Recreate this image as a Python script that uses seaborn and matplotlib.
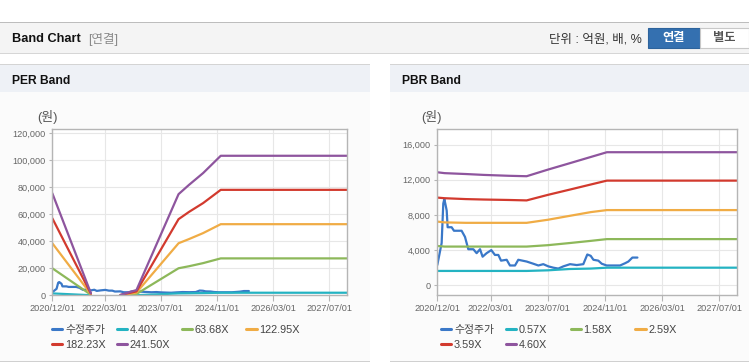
import pandas as pd
import matplotlib
matplotlib.use("Agg")
import matplotlib.pyplot as plt
from matplotlib.patches import Rectangle
from matplotlib.lines import Line2D
import seaborn as sns

# ---- data ----
PRICE_DATES = ["2020-12-01", "2021-01-07", "2021-01-21", "2021-01-30", "2021-02-10",
               "2021-02-19", "2021-02-27", "2021-04-02", "2021-04-22", "2021-06-26",
               "2021-07-25", "2021-08-22", "2021-10-04", "2021-11-01", "2021-11-30",
               "2021-12-22", "2022-01-25", "2022-03-06", "2022-04-06", "2022-05-05",
               "2022-05-28", "2022-07-15", "2022-08-12", "2022-09-24", "2022-10-22",
               "2023-01-01", "2023-02-27", "2023-04-11", "2023-05-23", "2023-07-05",
               "2023-08-17", "2023-09-28", "2023-11-10", "2024-01-06", "2024-03-03",
               "2024-04-28", "2024-06-01", "2024-06-30", "2024-07-23", "2024-09-03",
               "2024-10-02", "2024-11-13", "2025-03-07", "2025-04-18", "2025-05-17",
               "2025-06-20", "2025-08-02"]
PRICE = [2300, 4800, 9300, 9800, 9100, 8500, 6600, 6600, 6200, 6200,
         5500, 4100, 4100, 3650, 4100, 3250, 3650, 4000, 3450, 3450,
         2800, 2900, 2250, 2250, 2900, 2700, 2450, 2250, 2400, 2150,
         2000, 1900, 2150, 2400, 2300, 2400, 3500, 3350, 2900, 2800,
         2450, 2250, 2250, 2500, 2700, 3150, 3150]

PER_DATES = ["2020-12-01", "2021-11-01", "2022-07-15", "2022-12-01", "2023-12-01",
             "2024-03-01", "2024-07-01", "2024-12-01", "2027-12-01"]
PER_SEG = [0, 0, 1, 1, 1, 1, 1, 1, 1]   # line is broken between 2021/11 and 2022/07
PER_LABELS = ["4.40X", "63.68X", "122.95X", "182.23X", "241.50X"]
PER_440 = [1400, 50, 0, 70, 1400, 1500, 1650, 1900, 1900]
PER_6368 = [20000, 400, 0, 1000, 20000, 21500, 23800, 27300, 27300]
PER_12295 = [38500, 800, 100, 2000, 38500, 41600, 46000, 52600, 52600]
PER_18223 = [57000, 1200, 200, 2900, 56300, 61700, 68200, 78000, 78000]
PER_24150 = [75500, 1500, 300, 3900, 74800, 81700, 90400, 103200, 103200]

PBR_DATES = ["2020-12-01", "2021-02-01", "2021-08-01", "2022-01-01", "2022-08-01",
             "2023-01-01", "2023-07-01", "2024-01-01", "2024-07-01", "2024-11-15",
             "2027-12-01"]
PBR_LABELS = ["0.57X", "1.58X", "2.59X", "3.59X", "4.60X"]
PBR_057 = [1630, 1630, 1630, 1630, 1630, 1630, 1700, 1850, 1900, 2000, 2000]
PBR_158 = [4470, 4400, 4400, 4400, 4400, 4400, 4560, 4800, 5050, 5250, 5250]
PBR_259 = [7240, 7150, 7100, 7100, 7100, 7100, 7450, 7890, 8320, 8550, 8550]
PBR_359 = [9970, 9900, 9800, 9750, 9700, 9650, 10280, 10870, 11460, 11900, 11900]
PBR_460 = [12850, 12750, 12650, 12550, 12450, 12400, 13150, 13870, 14590, 15130, 15130]

X_TICKS = ["2020-12-01", "2022-03-01", "2023-07-01", "2024-11-01", "2026-03-01", "2027-07-01"]
X_TICK_LABELS = ["2020/12/01", "2022/03/01", "2023/07/01", "2024/11/01", "2026/03/01", "2027/07/01"]
PRICE_LABEL = "수정주가"

COLORS = ["#3a78c8", "#24b3c2", "#8db85a", "#f0ac45", "#d23a2e", "#8e559e"]

# ---- style ----
sns.set_theme(style="white")
plt.rcParams["font.family"] = ["Liberation Sans", "Noto Sans CJK KR", "DejaVu Sans"]

W, H = 749, 364
fig = plt.figure(figsize=(W / 100, H / 100), dpi=100)
fig.patch.set_facecolor("white")


def box(x0, y0, x1, y1, **kw):
    # background shapes sit behind the axes
    fig.add_artist(Rectangle((x0 / W, 1 - y1 / H), (x1 - x0) / W, (y1 - y0) / H,
                             transform=fig.transFigure, zorder=-10, **kw))


def txt(x, y, s, **kw):
    fig.text(x / W, 1 - y / H, s, **kw)


# page header bar
box(0, 22, 749, 52.5, facecolor="#f4f4f4", edgecolor="none")
box(0, 21.5, 749, 22.8, facecolor="#bdbdbd", edgecolor="none")
box(0, 52.5, 749, 54, facecolor="#d6d6d6", edgecolor="none")
txt(11.5, 39, "Band Chart", fontsize=9.2, fontweight="bold", color="#111", va="center")
txt(88, 39, "[연결]", fontsize=9, color="#8a8a8a", va="center")
txt(642, 39, "단위 : 억원, 배, %", fontsize=9, color="#333", va="center", ha="right")
box(648, 28.5, 700, 48, facecolor="#3470b0", edgecolor="#2d639c", linewidth=0.8)
box(700, 28.5, 749, 48, facecolor="white", edgecolor="#c8c8c8", linewidth=0.8)
txt(674, 38.5, "연결", fontsize=8.8, fontweight="bold", color="white", va="center", ha="center")
txt(724, 38.5, "별도", fontsize=8.8, fontweight="bold", color="#555", va="center", ha="center")

# panels
for x0, x1, title in [(0, 370, "PER Band"), (390, 749, "PBR Band")]:
    box(x0, 92, x1, 361, facecolor="#fbfbfb", edgecolor="none")
    box(x0, 64, x1, 92, facecolor="#eef1f6", edgecolor="none")
    box(x0, 63.5, x1, 64.8, facecolor="#d4d4d4", edgecolor="none")
    box(x0, 361, x1, 362.3, facecolor="#d0d0d0", edgecolor="none")
    txt(x0 + 11.5, 80.5, title, fontsize=8.7, fontweight="bold", color="#111", va="center")


def long_form(dates, series_list, labels, segs):
    frames = []
    for lab, vals in zip(labels, series_list):
        frames.append(pd.DataFrame({"date": pd.to_datetime(dates), "value": vals,
                                    "series": lab, "seg": segs}))
    return pd.concat(frames, ignore_index=True)


def draw_panel(ax_rect, df, order, yticks, ylim, legend_x):
    ax = fig.add_axes(ax_rect)
    ax.set_facecolor("white")
    palette = dict(zip(order, COLORS))
    sns.lineplot(data=df, x="date", y="value", hue="series", units="seg",
                 estimator=None, hue_order=order, palette=palette,
                 linewidth=1.6, legend=False, ax=ax)
    ax.set_xlim(pd.Timestamp("2020-12-01"), pd.Timestamp("2027-12-01"))
    ax.set_ylim(*ylim)
    ax.set_xticks(pd.to_datetime(X_TICKS))
    ax.set_xticklabels(X_TICK_LABELS)
    ax.set_yticks(yticks)
    ax.set_yticklabels([f"{v:,}" for v in yticks])
    ax.set_xlabel("")
    ax.set_ylabel("")
    ax.grid(True, color="#e7e7e7", linewidth=0.8)
    ax.set_axisbelow(True)
    for sp in ax.spines.values():
        sp.set_color("#b5b5b5")
        sp.set_linewidth(1)
    ax.tick_params(axis="x", length=4, width=0.8, color="#b5b5b5", pad=2,
                   labelsize=6.6, labelcolor="#666")
    ax.tick_params(axis="y", length=2, width=0.8, color="#b5b5b5", pad=3,
                   labelsize=6.6, labelcolor="#666")
    ax.tick_params(bottom=True, left=True)

    # legend: fixed-width columns, two rows
    handles = [Line2D([], [], color=c, linewidth=2.2) for c in COLORS]
    for col in range(4):
        idx = [i for i in (col, col + 4) if i < len(order)]
        fig.legend([handles[i] for i in idx], [order[i] for i in idx],
                   loc="upper left", frameon=False, fontsize=7.8,
                   bbox_to_anchor=((legend_x + 64.8 * col) / W, 1 - 325 / H),
                   handlelength=0.95, handletextpad=0.25, borderpad=0,
                   borderaxespad=0, labelspacing=0.42, labelcolor="#444")
    return ax


per_df = pd.concat([
    long_form(PRICE_DATES, [PRICE], [PRICE_LABEL], [0] * len(PRICE)),
    long_form(PER_DATES, [PER_440, PER_6368, PER_12295, PER_18223, PER_24150],
              PER_LABELS, PER_SEG),
], ignore_index=True)
pbr_df = pd.concat([
    long_form(PRICE_DATES, [PRICE], [PRICE_LABEL], [0] * len(PRICE)),
    long_form(PBR_DATES, [PBR_057, PBR_158, PBR_259, PBR_359, PBR_460],
              PBR_LABELS, [0] * len(PBR_DATES)),
], ignore_index=True)

draw_panel([52.3 / W, 1 - 295.3 / H, 294.7 / W, 166.3 / H], per_df,
           [PRICE_LABEL] + PER_LABELS, list(range(0, 120001, 20000)), (0, 123000), 52)
draw_panel([437.3 / W, 1 - 295.3 / H, 300 / W, 166.3 / H], pbr_df,
           [PRICE_LABEL] + PBR_LABELS, list(range(0, 16001, 4000)), (-1140, 17770), 441)

txt(37, 117, "(원)", fontsize=9.3, color="#555", va="center")
txt(421, 117, "(원)", fontsize=9.3, color="#555", va="center")

fig.savefig("out.png", dpi=100)
